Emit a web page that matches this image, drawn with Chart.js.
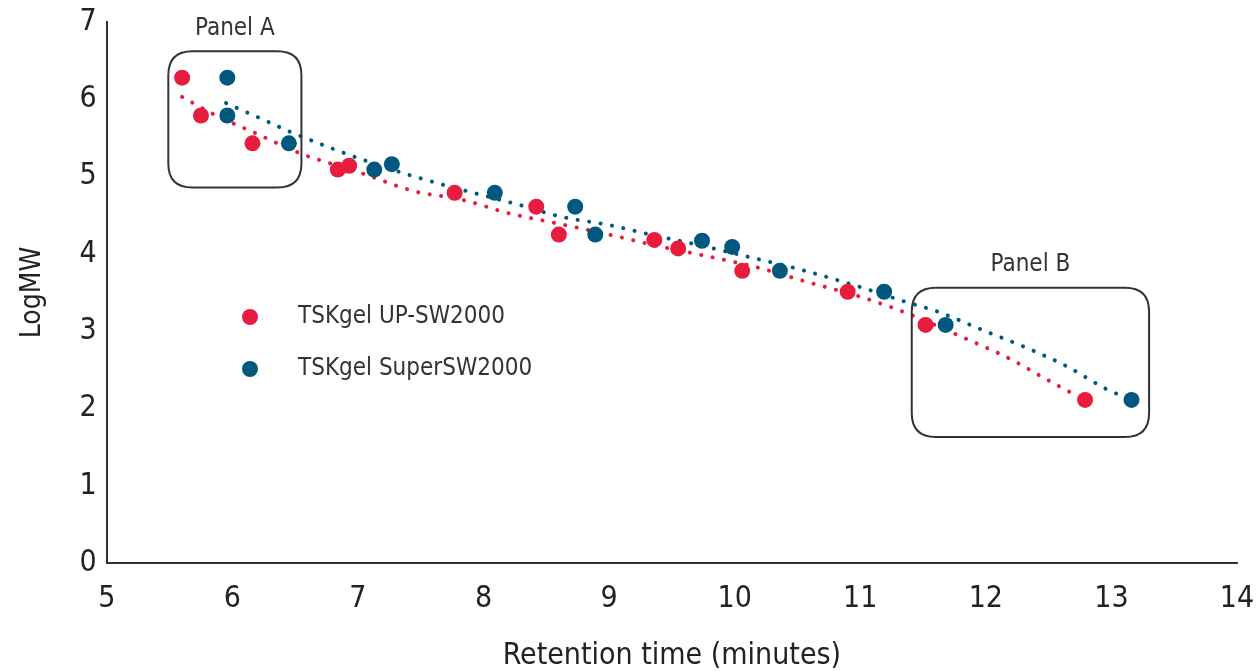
<!DOCTYPE html>
<html lang="en">
<head>
  <meta charset="UTF-8" />
  <title>LogMW vs retention time</title>
  <script src="https://cdn.jsdelivr.net/npm/chart.js"></script>
  <style>
    html, body { margin: 0; padding: 0; background: #fff; }
    #wrap { width: 1257px; height: 671px; position: relative; }
  </style>
</head>
<body>
  <div id="wrap"><canvas id="chart"></canvas></div>
  <script>
    // measured points
    const upTime = [5.60, 5.75, 6.16, 6.84, 6.93, 7.77, 8.42, 8.60, 9.36, 9.55, 10.06, 10.90, 11.52, 12.79];
    const upLogMW = [6.28, 5.79, 5.43, 5.09, 5.14, 4.79, 4.61, 4.25, 4.18, 4.07, 3.78, 3.51, 3.08, 2.11];
    const superTime = [5.96, 5.96, 6.45, 7.13, 7.27, 8.09, 8.73, 8.89, 9.74, 9.98, 10.36, 11.19, 11.68, 13.16];
    const superLogMW = [6.28, 5.79, 5.43, 5.09, 5.16, 4.79, 4.61, 4.25, 4.17, 4.09, 3.78, 3.51, 3.08, 2.11];

    // trendlines
    const upTrendX = [5.60, 5.86, 6.20, 6.54, 7.00, 7.45, 7.83, 8.19, 8.57, 9.05, 9.42, 9.81, 10.19, 10.57, 11.03, 11.39, 11.83, 12.17, 12.49, 12.74];
    const upTrendY = [6.03, 5.80, 5.55, 5.30, 5.06, 4.81, 4.70, 4.53, 4.40, 4.23, 4.09, 3.96, 3.82, 3.64, 3.43, 3.22, 2.91, 2.66, 2.37, 2.15];
    const superTrendX = [5.95, 6.20, 6.46, 6.80, 7.07, 7.43, 7.71, 7.99, 8.27, 8.62, 9.01, 9.30, 9.67, 10.14, 10.54, 10.98, 11.34, 11.62, 11.98, 12.33, 12.65, 12.96, 13.10];
    const superTrendY = [5.95, 5.77, 5.58, 5.36, 5.20, 5.01, 4.88, 4.76, 4.64, 4.48, 4.37, 4.26, 4.13, 3.95, 3.79, 3.58, 3.39, 3.25, 3.01, 2.78, 2.54, 2.25, 2.15];

    const seriesNames = ["TSKgel UP-SW2000", "TSKgel SuperSW2000"];
    const RED = "#e81c3e";
    const BLUE = "#00587f";

    const toXY = (xs, ys) => xs.map((x, i) => ({ x: x, y: ys[i] }));

    // panel boxes drawn on top
    const panels = [
      { label: "Panel A", x0: 5.49, x1: 6.55, y0: 6.62, y1: 4.86 },
      { label: "Panel B", x0: 11.41, x1: 13.30, y0: 3.56, y1: 1.63 }
    ];

    function roundRect(ctx, x, y, w, h, r) {
      ctx.beginPath();
      ctx.moveTo(x + r, y);
      ctx.lineTo(x + w - r, y);
      ctx.quadraticCurveTo(x + w, y, x + w, y + r);
      ctx.lineTo(x + w, y + h - r);
      ctx.quadraticCurveTo(x + w, y + h, x + w - r, y + h);
      ctx.lineTo(x + r, y + h);
      ctx.quadraticCurveTo(x, y + h, x, y + h - r);
      ctx.lineTo(x, y + r);
      ctx.quadraticCurveTo(x, y, x + r, y);
      ctx.closePath();
    }

    const font = "'Liberation Sans Narrow', 'DejaVu Sans Condensed', sans-serif";

    const extras = {
      id: "extras",
      afterDraw(chart) {
        const ctx = chart.ctx;
        const xs = chart.scales.x, ys = chart.scales.y;
        ctx.save();
        panels.forEach(p => {
          const l = xs.getPixelForValue(p.x0), r = xs.getPixelForValue(p.x1);
          const t = ys.getPixelForValue(p.y0), b = ys.getPixelForValue(p.y1);
          ctx.strokeStyle = "#333";
          ctx.lineWidth = 2;
          roundRect(ctx, l, t, r - l, b - t, 24);
          ctx.stroke();
          ctx.fillStyle = "#333";
          ctx.font = "24px " + font;
          ctx.textAlign = "center";
          ctx.textBaseline = "middle";
          ctx.fillText(p.label, (l + r) / 2, t - 23);
        });
        // legend
        const colors = [RED, BLUE];
        seriesNames.forEach((name, i) => {
          const y = 317 + i * 52;
          ctx.fillStyle = colors[i];
          ctx.beginPath();
          ctx.arc(250, y, 8, 0, Math.PI * 2);
          ctx.fill();
          ctx.fillStyle = "#333";
          ctx.font = "24px " + font;
          ctx.textAlign = "left";
          ctx.textBaseline = "middle";
          ctx.fillText(name, 298, y);
        });
        ctx.restore();
      }
    };

    const dotted = { borderWidth: 4, borderDash: [0.1, 11.5], borderCapStyle: "round", pointRadius: 0, showLine: true, fill: false, cubicInterpolationMode: "monotone", tension: 0.4 };

    new Chart(document.getElementById("chart"), {
      type: "scatter",
      data: {
        datasets: [
          { label: seriesNames[0], data: toXY(upTime, upLogMW), backgroundColor: RED, borderColor: RED, pointRadius: 8, pointBorderWidth: 0, order: 1 },
          { label: seriesNames[1], data: toXY(superTime, superLogMW), backgroundColor: BLUE, borderColor: BLUE, pointRadius: 8, pointBorderWidth: 0, order: 0 },
          Object.assign({ label: "trend UP", data: toXY(upTrendX, upTrendY), borderColor: RED, order: 3 }, dotted),
          Object.assign({ label: "trend Super", data: toXY(superTrendX, superTrendY), borderColor: BLUE, order: 2 }, dotted)
        ]
      },
      options: {
        responsive: true,
        maintainAspectRatio: false,
        animation: false,
        layout: { padding: { top: 0, right: 0, left: 12, bottom: 0 } },
        plugins: { legend: { display: false }, tooltip: { enabled: false } },
        scales: {
          x: {
            type: "linear", min: 5, max: 14,
            afterFit(s) { s.height = 108; s.paddingRight = 20; s.paddingLeft = 0; },
            ticks: { stepSize: 1, color: "#222", font: { family: font, size: 30 }, padding: 18 },
            grid: { display: false, drawTicks: false },
            border: { display: true, color: "#333", width: 2 },
            title: { display: true, text: "Retention time (minutes)", color: "#222", font: { family: font, size: 30 }, padding: { top: 4, bottom: -3 } }
          },
          y: {
            min: 0, max: 7,
            afterFit(s) { s.paddingTop = 22; s.paddingBottom = 0; },
            ticks: { stepSize: 1, color: "#222", font: { family: font, size: 30 }, padding: 10 },
            grid: { display: false, drawTicks: false },
            border: { display: true, color: "#333", width: 2 },
            title: { display: true, text: "LogMW", color: "#222", font: { family: font, size: 28 }, padding: { bottom: 20 } }
          }
        }
      },
      plugins: [extras]
    });
  </script>
</body>
</html>
